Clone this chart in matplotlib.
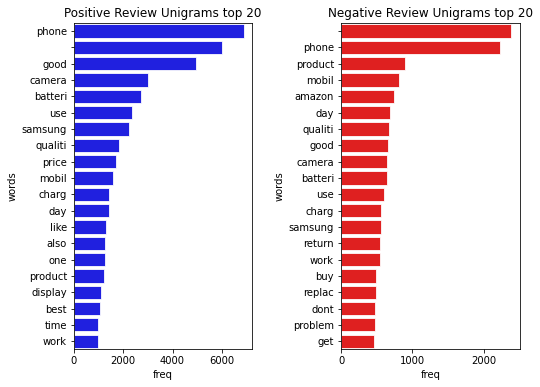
import matplotlib
matplotlib.use("Agg")
import matplotlib.pyplot as plt
import colorsys

pos_words = ["phone", "", "good", "camera", "batteri", "use", "samsung", "qualiti", "price", "mobil",
             "charg", "day", "like", "also", "one", "product", "display", "best", "time", "work"]
pos_freq = [6890, 5990, 4935, 2990, 2705, 2340, 2218, 1812, 1690, 1569,
            1420, 1405, 1285, 1248, 1240, 1203, 1082, 1075, 962, 955]

neg_words = ["", "phone", "product", "mobil", "amazon", "day", "qualiti", "good", "camera", "batteri",
             "use", "charg", "samsung", "return", "work", "buy", "replac", "dont", "problem", "get"]
neg_freq = [2385, 2226, 893, 809, 739, 683, 669, 655, 641, 638,
            599, 557, 555, 543, 540, 487, 485, 473, 470, 459]


def desat(rgb, s=0.75):
    h, l, sat = colorsys.rgb_to_hls(*rgb)
    return colorsys.hls_to_rgb(h, l, sat * s)


fig = plt.figure(figsize=(7.5, 387 / 72), dpi=72)
ax1 = fig.add_axes([0.137, 0.097, 0.330, 0.844])
ax2 = fig.add_axes([0.6315, 0.097, 0.3315, 0.844])

for ax, words, freq, col, title in [
    (ax1, pos_words, pos_freq, desat((0, 0, 1)), "Positive Review Unigrams top 20"),
    (ax2, neg_words, neg_freq, desat((1, 0, 0)), "Negative Review Unigrams top 20"),
]:
    y = list(range(len(words)))
    ax.barh(y, freq, height=0.8, color=col, edgecolor="white", linewidth=0.8)
    ax.set_yticks(y)
    ax.set_yticklabels(words)
    ax.set_ylim(len(words) - 0.5, -0.5)
    ax.set_xlim(0, max(freq) * 1.05)
    ax.set_xlabel("freq")
    ax.set_ylabel("words")
    ax.set_title(title, fontsize=12)

ax1.set_xticks([0, 2000, 4000, 6000])
ax2.set_xticks([0, 1000, 2000])

fig.savefig("out.png", dpi=72)
